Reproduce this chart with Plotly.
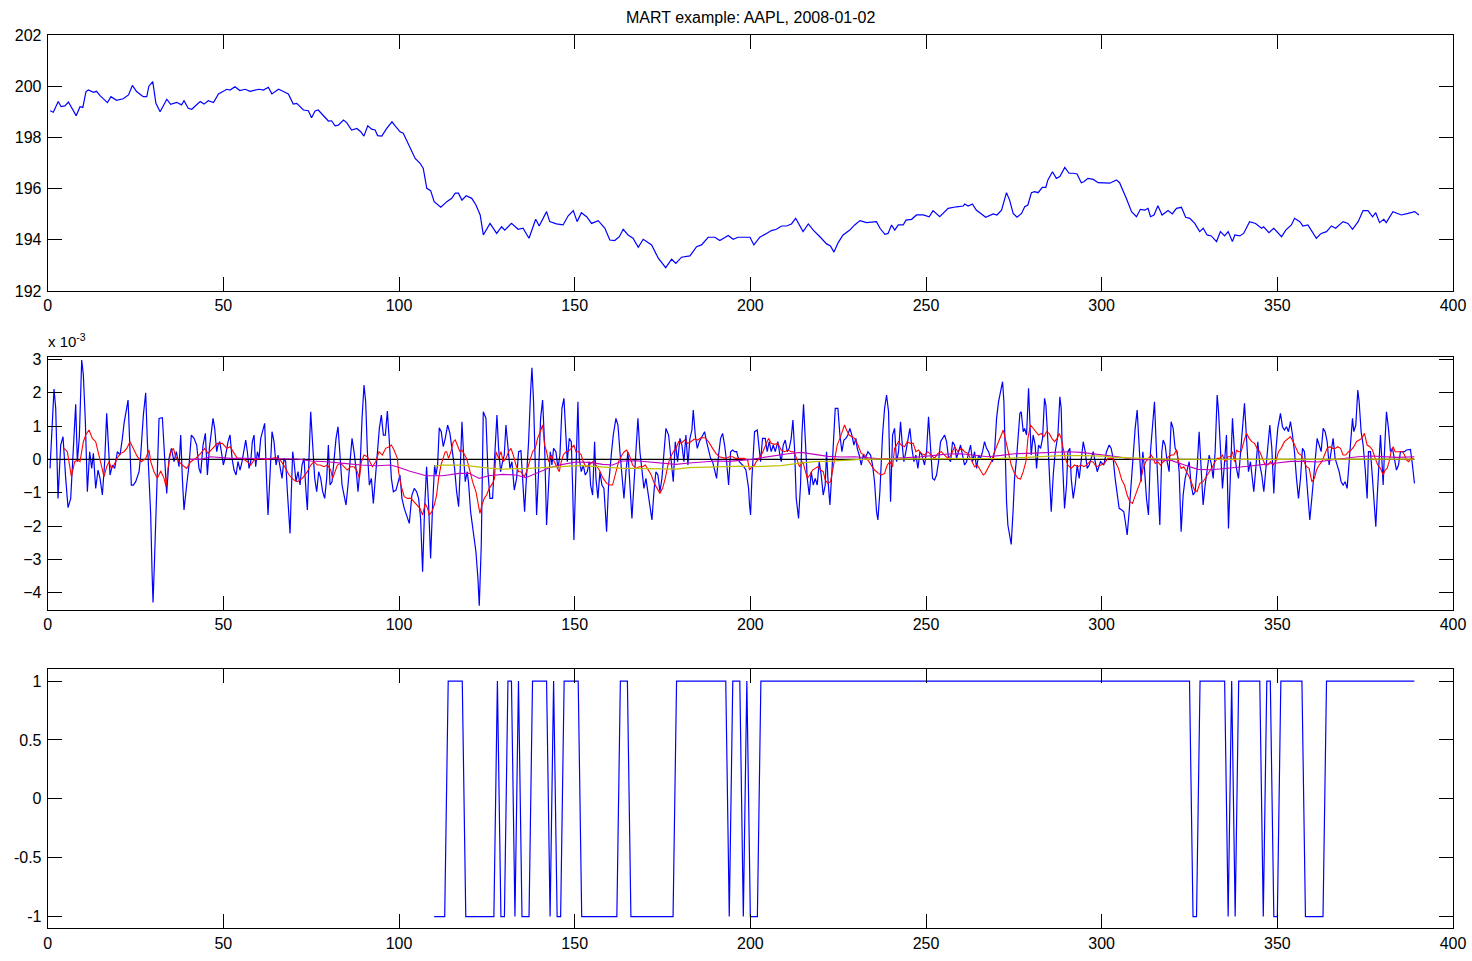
import plotly.graph_objects as go

# ---------------- data ----------------
# AAPL price by minute index (t, price)
price_pts = [
    (0.7, 199.04), (1.6, 198.98), (3.0, 199.40), (3.8, 199.20), (4.9, 199.23), (5.9, 199.38), (8.1, 198.85),
    (9.2, 199.20), (10.0, 199.17), (10.9, 199.79), (11.6, 199.85), (13.0, 199.76), (13.9, 199.80), (14.9, 199.63),
    (17.0, 199.36), (18.0, 199.59), (19.6, 199.45), (21.5, 199.51), (23.0, 199.66), (24.1, 200.03), (25.3, 199.79),
    (27.2, 199.59), (28.2, 199.59), (28.8, 200.00), (29.9, 200.18), (30.8, 199.33), (32.0, 199.00), (33.9, 199.49),
    (35.0, 199.29), (36.7, 199.37), (38.1, 199.27), (38.8, 199.43), (40.0, 199.14), (41.0, 199.10), (43.4, 199.40),
    (44.5, 199.30), (45.7, 199.43), (47.2, 199.36), (48.6, 199.70), (51.0, 199.88), (51.9, 199.85), (53.3, 199.98),
    (54.7, 199.83), (56.2, 199.88), (57.6, 199.80), (59.0, 199.85), (60.2, 199.88), (61.4, 199.85), (62.8, 199.96),
    (63.8, 199.70), (65.7, 199.88), (67.1, 199.79), (68.5, 199.70), (69.9, 199.30), (70.9, 199.33), (72.8, 199.07),
    (74.2, 199.04), (75.1, 198.77), (76.1, 199.03), (77.0, 199.07), (78.5, 198.84), (79.9, 198.64), (80.8, 198.65),
    (81.8, 198.45), (82.7, 198.48), (84.2, 198.68), (85.1, 198.58), (86.5, 198.29), (88.0, 198.35), (89.1, 198.22),
    (90.0, 198.05), (91.1, 198.45), (92.2, 198.32), (93.2, 198.29), (93.9, 198.07), (95.1, 198.05), (96.5, 198.35),
    (98.0, 198.61), (98.9, 198.45), (100.3, 198.22), (101.2, 198.16), (103.1, 197.64), (104.6, 197.18),
    (106.0, 196.99), (106.9, 196.79), (107.9, 196.01), (109.0, 195.92), (110.0, 195.49), (111.9, 195.27),
    (113.6, 195.49), (115.0, 195.62), (116.0, 195.82), (116.9, 195.82), (117.9, 195.55), (119.1, 195.72),
    (120.7, 195.62), (121.9, 195.36), (123.1, 194.97), (124.0, 194.19), (125.9, 194.64), (127.8, 194.25),
    (129.2, 194.51), (130.1, 194.38), (132.0, 194.64), (133.9, 194.41), (135.3, 194.45), (137.0, 194.06),
    (138.9, 194.80), (139.9, 194.54), (142.0, 195.10), (142.9, 194.71), (144.8, 194.62), (146.7, 194.58),
    (148.1, 194.93), (149.6, 195.14), (150.7, 194.71), (151.9, 195.06), (153.4, 194.90), (154.8, 194.64),
    (156.7, 194.75), (158.6, 194.45), (160.0, 193.99), (161.4, 193.97), (162.7, 194.12), (163.8, 194.41),
    (165.2, 194.19), (166.6, 194.06), (168.1, 193.71), (169.5, 194.02), (171.9, 193.80), (173.8, 193.28),
    (175.9, 192.91), (177.6, 193.24), (178.8, 193.08), (180.4, 193.32), (182.8, 193.37), (184.7, 193.73),
    (186.1, 193.80), (188.0, 194.10), (189.9, 194.10), (191.3, 193.97), (193.7, 194.17), (195.1, 194.02),
    (196.5, 194.10), (199.9, 194.10), (201.0, 193.80), (202.7, 194.10), (204.6, 194.25), (206.0, 194.36),
    (207.4, 194.41), (208.9, 194.54), (210.3, 194.54), (211.7, 194.62), (212.9, 194.84), (215.0, 194.32),
    (216.5, 194.62), (217.9, 194.38), (219.8, 194.12), (221.7, 193.84), (222.8, 193.76), (223.8, 193.52),
    (225.0, 193.89), (226.4, 194.19), (228.3, 194.38), (229.7, 194.58), (231.2, 194.75), (233.1, 194.67),
    (235.9, 194.71), (236.9, 194.45), (238.3, 194.21), (239.2, 194.25), (240.2, 194.58), (241.1, 194.38),
    (242.1, 194.58), (243.5, 194.58), (244.3, 194.77), (245.9, 194.80), (247.3, 194.97), (249.2, 194.97),
    (250.9, 194.90), (252.0, 195.14), (253.9, 194.90), (256.3, 195.23), (258.7, 195.29), (260.6, 195.32),
    (261.0, 195.40), (262.0, 195.32), (263.2, 195.40), (264.3, 195.16), (267.0, 194.88), (269.1, 195.01),
    (270.2, 194.97), (271.5, 195.16), (272.9, 195.84), (273.8, 195.55), (274.8, 195.03), (275.9, 194.88),
    (277.2, 195.03), (278.1, 195.29), (279.0, 195.36), (280.0, 195.84), (280.9, 195.88), (281.9, 195.84),
    (283.1, 196.05), (284.1, 196.05), (284.7, 196.34), (286.0, 196.66), (287.1, 196.40), (288.1, 196.47),
    (289.5, 196.83), (290.7, 196.60), (291.9, 196.60), (293.0, 196.57), (294.2, 196.23), (294.9, 196.27),
    (296.1, 196.40), (297.6, 196.36), (299.0, 196.23), (301.3, 196.23), (302.3, 196.21), (304.2, 196.34),
    (305.1, 196.23), (307.0, 195.62), (308.5, 195.10), (309.9, 194.90), (311.0, 195.19), (312.3, 195.16),
    (313.2, 195.23), (313.9, 194.90), (314.9, 194.97), (316.0, 195.33), (317.2, 194.97), (318.9, 195.14),
    (320.1, 195.01), (321.3, 195.23), (322.7, 195.27), (323.9, 194.88), (325.1, 194.84), (326.5, 194.64),
    (327.9, 194.32), (328.9, 194.45), (330.0, 194.19), (331.2, 194.15), (332.7, 193.93), (333.8, 194.32),
    (335.0, 194.15), (336.0, 194.32), (337.2, 193.93), (337.9, 194.19), (339.3, 194.15), (340.4, 194.25),
    (342.1, 194.71), (343.8, 194.64), (345.5, 194.45), (346.1, 194.51), (347.6, 194.28), (349.0, 194.45),
    (351.2, 194.12), (352.4, 194.38), (354.0, 194.58), (354.9, 194.84), (356.4, 194.71), (357.3, 194.54),
    (358.7, 194.58), (361.1, 194.06), (362.5, 194.25), (364.0, 194.32), (365.4, 194.54), (366.6, 194.45),
    (368.7, 194.71), (370.1, 194.64), (371.4, 194.41), (373.0, 194.71), (374.4, 195.14), (375.8, 195.14),
    (377.1, 194.90), (378.0, 195.06), (379.1, 194.67), (380.3, 194.80), (381.0, 194.67), (382.9, 195.10),
    (385.3, 194.97), (387.2, 195.03), (389.1, 195.10), (390.3, 194.97),
]

# one-minute returns, in units of 1e-3
ret_pts = [
    (0.66, -0.27), (1.80, 2.11), (2.28, 1.53), (2.94, -1.17), (3.70, 0.43), (4.36, 0.68), (5.12, -0.57),
    (5.79, -1.45), (6.55, -1.17), (7.31, 0.33), (7.97, 1.65), (8.44, -0.07), (9.01, 0.68), (9.68, 2.98),
    (10.15, 2.53), (10.72, 1.13), (11.29, -0.97), (11.95, 0.23), (12.52, -0.27), (13.00, 0.18), (13.66, -0.87),
    (14.33, -0.32), (14.90, -0.57), (15.56, -1.07), (16.22, -0.07), (16.79, 1.38), (17.27, 0.53), (17.74, -0.47),
    (18.41, -0.17), (19.07, -0.27), (19.83, 0.23), (20.59, 0.13), (21.25, 0.63), (21.73, 1.08), (22.87, 1.78),
    (23.43, 0.53), (23.81, -0.77), (24.38, -0.77), (25.05, -0.67), (26.00, -0.37), (26.47, 0.13), (27.23, 1.33),
    (27.89, 2.00), (28.37, 0.53), (28.94, -0.57), (29.32, -1.67), (29.70, -3.37), (29.98, -4.29), (30.36, -3.17),
    (30.83, -1.57), (31.21, -0.47), (31.69, 1.23), (32.64, 1.25), (33.30, 0.03), (33.87, -1.02), (34.54, 0.03),
    (35.20, 0.33), (35.96, -0.07), (36.62, 0.23), (37.38, -0.22), (37.86, 0.73), (38.33, -0.57), (38.80, -1.52),
    (39.56, -0.77), (40.23, -0.17), (40.89, 0.73), (41.65, 0.63), (42.41, 0.43), (43.07, -0.27), (43.55, -0.42),
    (44.21, 0.43), (44.88, 0.78), (45.45, -0.47), (46.02, 0.33), (46.58, 0.83), (47.06, 1.23), (47.53, 0.93),
    (48.10, 0.23), (48.48, 0.43), (48.96, 0.53), (49.43, 0.23), (50.00, -0.17), (50.66, 0.13), (51.33, 0.53),
    (51.90, 0.73), (52.47, 0.03), (53.04, -0.32), (53.61, -0.47), (54.17, -0.07), (54.74, -0.32), (55.31, -0.07),
    (55.88, 0.23), (56.36, 0.58), (56.83, 0.23), (57.31, -0.27), (57.78, -0.07), (58.25, 0.53), (58.73, 0.73),
    (59.20, -0.22), (59.68, 0.23), (60.15, 0.03), (60.63, 0.63), (61.76, 1.08), (62.24, -0.47), (62.71, -1.67),
    (63.28, -0.47), (63.85, 0.83), (64.42, 0.53), (64.99, -0.17), (65.56, 0.13), (66.13, -0.27), (66.70, -0.57),
    (67.27, 0.03), (67.74, -0.07), (68.22, -0.97), (68.69, -1.77), (68.98, -2.22), (69.35, -0.97), (69.73, 0.23),
    (70.11, -0.07), (70.68, -0.67), (71.25, -0.37), (71.82, -0.77), (72.39, -0.17), (72.96, 0.03), (73.53, -0.97),
    (73.91, -1.52), (74.38, 0.03), (74.86, 1.43), (75.43, 0.43), (76.00, -0.57), (76.57, -0.97), (77.13, -0.37),
    (77.70, -0.57), (78.27, -0.97), (78.84, -1.17), (79.41, -0.57), (79.89, 0.43), (80.36, -0.77), (80.93, -0.67),
    (81.50, 0.03), (82.07, 0.63), (82.64, 0.98), (83.21, 0.03), (83.78, -0.77), (84.35, -1.07), (84.91, -1.37),
    (85.48, -0.77), (86.05, -0.17), (86.62, 0.63), (87.19, 0.23), (87.76, -0.27), (88.33, -0.97), (88.90, -0.27),
    (89.47, 1.23), (90.04, 2.23), (90.51, 1.73), (90.99, 0.23), (91.56, -0.77), (92.13, -0.57), (92.69, -1.32),
    (93.26, -0.47), (93.83, 0.33), (94.40, 0.93), (94.97, 1.33), (95.54, 0.73), (96.11, 0.73), (96.68, 1.45),
    (97.25, 0.53), (97.82, -0.57), (98.39, -0.97), (99.15, -0.92), (100.26, -0.47), (100.83, -1.17),
    (101.49, -1.47), (102.92, -1.92), (103.67, -1.07), (104.34, -0.87), (105.00, -0.97), (105.57, -1.17),
    (106.14, -1.77), (106.71, -3.37), (107.28, -1.47), (107.85, -0.22), (108.42, -1.37), (108.99, -2.97),
    (109.56, -1.37), (110.13, -0.17), (110.51, -0.47), (110.98, -0.17), (111.45, 0.95), (112.02, 0.83),
    (112.59, 0.38), (113.16, 0.63), (113.83, 1.03), (114.49, 0.78), (115.06, 0.33), (115.82, -0.27),
    (116.39, -0.97), (116.96, -1.42), (117.43, -0.27), (117.91, 1.13), (118.48, -0.07), (118.85, -0.67),
    (119.42, -0.37), (119.80, -0.72), (120.37, -1.57), (121.13, -2.17), (121.89, -2.77), (122.46, -3.57),
    (122.84, -4.39), (123.41, -2.57), (123.98, 1.43), (124.74, 1.23), (125.31, -0.37), (125.88, -1.17),
    (126.63, -1.17), (127.20, 0.03), (127.87, 1.33), (128.34, 0.33), (128.91, -0.37), (129.48, -0.07),
    (129.96, 0.13), (130.43, 1.03), (131.00, 0.23), (131.57, -0.27), (132.14, -0.07), (132.80, -0.92),
    (133.47, -0.57), (134.04, 0.23), (134.70, 0.26), (135.17, -0.57), (135.74, -1.57), (136.31, -0.47),
    (136.88, 0.53), (137.45, 2.03), (137.83, 2.75), (138.30, 1.73), (138.78, -0.27), (139.16, -1.67),
    (139.73, -0.37), (140.30, 1.23), (140.87, 1.78), (141.44, 0.43), (142.00, -1.97), (142.57, -0.57),
    (143.05, 0.23), (143.52, -0.17), (143.99, 0.33), (144.66, 0.23), (145.23, -0.27), (145.80, 0.13),
    (146.37, 1.53), (146.94, 1.83), (147.32, 1.13), (147.89, -0.07), (148.46, 0.63), (149.03, 0.53),
    (149.40, -0.77), (149.78, -2.42), (150.16, -1.07), (150.54, 0.73), (150.92, 1.73), (151.30, 0.03),
    (151.87, -0.37), (152.44, -0.17), (153.01, -0.47), (153.58, -0.37), (154.15, -0.07), (154.53, -0.77),
    (155.10, -1.07), (155.67, 0.53), (156.05, -0.57), (156.61, -1.17), (157.18, -0.37), (157.75, -0.77),
    (158.32, -0.87), (159.08, -2.17), (159.65, -0.77), (160.41, 0.13), (160.98, 0.73), (161.74, 1.23),
    (162.31, 1.03), (162.88, 0.23), (163.45, -0.57), (164.02, -1.17), (164.59, -0.37), (165.15, 0.23),
    (165.72, -0.77), (166.29, -1.77), (166.86, -0.77), (167.43, 0.23), (168.00, 1.23), (168.57, 0.23),
    (169.14, -0.37), (169.71, -0.87), (170.28, -0.57), (170.85, -0.97), (171.42, -1.27), (171.99, -1.82),
    (172.56, -0.97), (173.12, -0.37), (173.69, -0.47), (174.26, -0.97), (174.83, -0.57), (175.40, 0.23),
    (175.97, 0.93), (176.73, 0.73), (177.49, 0.03), (178.06, -0.67), (178.63, 0.53), (179.29, -0.07),
    (179.96, 0.63), (180.52, 0.43), (181.09, -0.07), (181.66, 0.73), (182.23, -0.17), (182.80, 0.63),
    (183.37, 0.88), (183.75, 1.48), (184.32, 0.73), (184.89, 0.33), (185.46, 0.53), (186.03, 0.63),
    (186.97, 0.83), (187.54, 0.53), (188.11, 0.23), (188.68, 0.03), (189.25, -0.07), (189.82, -0.37),
    (190.39, -0.57), (190.96, 0.13), (191.53, 0.63), (192.10, 0.78), (192.67, 0.43), (193.24, -0.07),
    (193.81, -0.77), (194.38, 0.23), (194.94, 0.28), (195.51, 0.23), (196.08, 0.23), (196.84, -0.07),
    (197.79, -0.17), (198.74, -0.32), (199.50, -0.87), (199.77, -1.37), (200.06, -1.67), (200.44, -0.57),
    (200.82, 0.33), (201.20, 0.83), (201.96, 0.88), (202.53, 0.23), (202.91, -0.07), (203.47, 0.63),
    (204.23, 0.63), (204.80, 0.23), (205.37, 0.53), (205.94, 0.23), (206.51, 0.43), (207.08, 0.23),
    (207.84, 0.53), (208.41, 0.13), (208.79, -0.07), (209.36, 0.43), (209.93, 0.58), (210.50, 0.23),
    (211.06, 0.33), (211.63, 0.63), (212.11, 1.18), (212.58, 0.33), (213.06, -1.17), (213.72, -1.77),
    (214.29, -0.77), (214.67, 0.73), (215.14, 1.65), (215.62, 0.63), (216.19, -0.57), (216.76, -1.07),
    (217.33, -0.37), (217.90, -0.77), (218.47, -0.57), (219.03, -0.77), (219.60, -0.07), (220.17, -0.47),
    (220.74, -1.07), (221.31, -0.77), (221.69, 0.23), (222.07, -0.57), (222.64, -1.37), (223.21, -0.37),
    (223.78, 0.63), (224.16, 1.53), (224.92, 1.53), (225.49, 0.73), (226.06, 0.23), (226.62, 0.58),
    (227.19, 0.63), (227.76, 0.73), (228.33, 0.93), (228.90, 0.73), (229.47, 0.43), (230.04, 0.63),
    (230.42, 0.33), (230.99, 0.13), (231.56, -0.17), (232.13, 0.13), (232.70, 0.03), (233.46, 0.23),
    (234.21, 0.13), (234.78, -0.17), (235.35, -0.67), (235.92, -1.57), (236.30, -1.82), (236.87, -0.97),
    (237.63, 0.73), (238.20, 1.53), (238.77, 1.93), (239.34, 1.43), (239.91, -1.27), (240.48, 0.73),
    (241.05, 0.93), (241.61, -0.07), (242.18, 0.23), (242.75, 1.13), (243.32, 0.33), (243.70, -0.07),
    (244.27, 0.23), (244.84, 0.63), (245.41, 0.93), (245.98, 0.33), (246.55, -0.07), (247.12, 0.13),
    (247.69, -0.27), (248.26, 0.23), (248.83, 0.13), (249.58, -0.17), (250.15, 0.23), (250.72, 1.28),
    (251.29, 0.23), (251.86, -0.57), (252.43, -0.62), (253.00, -0.47), (253.57, -0.07), (254.14, 0.53),
    (254.71, 0.63), (255.28, 0.73), (255.85, 0.53), (256.42, 0.03), (256.99, -0.07), (257.55, 0.53),
    (258.12, 0.43), (258.69, 0.03), (259.26, 0.23), (259.83, 0.43), (260.40, 0.13), (260.97, -0.17),
    (261.54, -0.07), (262.11, 0.23), (262.68, 0.43), (263.25, -0.07), (263.82, 0.23), (264.39, -0.27),
    (264.96, 0.13), (265.52, 0.03), (266.09, 0.23), (266.66, 0.53), (267.23, 0.33), (267.80, 0.23),
    (268.37, 0.03), (268.94, -0.07), (269.51, 0.23), (270.08, 1.23), (270.65, 1.73), (271.22, 2.03),
    (271.79, 2.33), (272.17, 1.73), (272.55, -0.37), (272.92, -1.27), (273.30, -1.97), (273.87, -2.37),
    (274.25, -2.55), (274.82, -1.47), (275.20, -0.57), (275.77, 0.03), (276.15, 0.63), (276.72, 1.38),
    (277.10, 1.43), (277.67, 0.83), (278.05, 0.93), (278.62, 0.73), (279.19, 2.13), (279.57, 1.33),
    (279.94, 0.13), (280.51, 0.73), (281.08, 0.43), (281.46, -0.27), (282.03, 0.43), (282.60, 0.33),
    (283.17, 0.63), (283.74, 1.83), (284.12, 1.63), (284.50, 0.93), (285.07, -0.57), (285.64, -1.57),
    (286.21, -0.47), (286.78, 0.23), (287.54, 0.73), (288.10, 1.88), (288.48, 1.53), (288.86, -0.07),
    (289.43, -1.47), (290.00, -0.77), (290.38, 0.23), (290.95, 0.33), (291.33, -0.57), (291.90, -1.17),
    (292.47, -0.77), (293.04, -0.17), (293.61, -0.57), (294.18, 0.03), (294.75, 0.53), (295.31, 0.23),
    (295.88, -0.27), (296.45, -0.17), (297.02, 0.03), (297.59, 0.23), (298.16, -0.07), (298.73, -0.37),
    (299.66, -0.07), (300.61, -0.17), (301.37, 0.23), (302.13, 0.43), (302.70, 0.33), (303.26, 0.03),
    (303.83, -0.57), (304.40, -1.07), (304.97, -1.47), (305.73, -1.52), (306.30, -1.57), (306.87, -1.97),
    (307.25, -2.27), (307.82, -1.57), (308.39, -0.77), (308.96, 0.23), (309.53, 0.93), (310.10, 1.48),
    (310.66, 0.23), (311.23, -0.67), (311.71, 0.23), (312.18, -0.27), (312.75, -1.17), (313.32, -1.67),
    (313.89, 0.23), (314.46, 1.03), (315.03, 1.73), (315.60, 0.23), (316.17, -1.37), (316.55, -1.97),
    (317.12, 0.23), (317.50, 0.58), (318.07, 0.43), (318.63, -0.07), (319.20, -0.37), (319.77, 1.13),
    (320.34, 0.93), (320.91, 0.33), (321.48, 0.23), (322.05, -0.37), (322.62, -2.17), (323.19, -1.07),
    (323.76, -0.57), (324.33, -0.27), (324.90, -0.07), (325.47, -0.77), (326.03, -1.07), (326.60, -0.97),
    (327.17, -0.27), (327.74, 0.83), (328.31, -0.17), (328.88, -1.37), (329.45, -0.77), (330.02, -0.27),
    (330.59, 0.13), (331.16, -0.12), (331.73, -0.57), (332.30, 0.23), (332.87, 1.93), (333.24, 1.48),
    (333.81, 0.23), (334.38, -0.87), (334.95, -0.12), (335.52, 0.73), (336.09, -2.07), (336.66, -0.57),
    (337.23, 1.23), (337.80, 0.23), (338.37, -0.27), (338.94, -0.57), (339.51, 0.33), (340.08, 0.93),
    (340.65, 1.68), (341.21, 0.63), (341.78, -0.37), (342.35, -0.07), (342.73, -0.37), (343.30, -0.97),
    (343.87, -0.27), (344.44, 0.53), (345.01, -0.17), (345.58, -0.47), (346.15, -0.97), (346.72, -0.27),
    (347.29, 0.53), (347.86, 1.03), (348.43, 0.33), (349.00, -1.02), (349.56, 0.23), (350.13, 0.93),
    (350.89, 1.38), (351.46, 0.98), (352.03, 0.88), (352.60, 0.98), (353.17, 0.83), (353.74, 1.13),
    (354.31, 0.73), (354.88, 0.23), (355.45, -0.57), (356.02, -1.17), (356.59, -0.57), (357.15, 0.33),
    (357.72, 0.23), (358.29, -0.57), (358.86, -1.57), (359.24, -1.82), (359.81, -1.17), (360.38, -0.57),
    (360.95, 0.23), (361.33, 0.63), (361.90, 0.43), (362.47, 0.23), (363.04, 0.93), (363.61, 0.83),
    (364.18, 0.53), (364.74, -0.17), (365.31, 0.23), (365.88, 0.63), (366.45, 0.03), (367.02, -0.17),
    (367.59, -0.37), (368.16, -0.67), (368.73, -0.77), (369.30, -0.67), (369.87, -0.87), (370.44, -0.07),
    (371.01, 0.73), (371.39, 1.23), (371.77, 0.83), (372.34, 1.03), (372.90, 2.08), (373.28, 1.73),
    (373.85, 0.83), (374.42, 0.43), (374.99, -0.27), (375.56, -1.17), (375.94, 0.23), (376.51, 0.23),
    (377.08, -0.57), (377.65, -1.57), (378.03, -2.02), (378.41, -1.17), (378.98, 0.23), (379.35, 0.73),
    (379.73, 0.03), (380.12, -0.77), (380.50, 0.23), (381.06, 1.43), (381.63, 0.93), (382.20, 0.23),
    (382.77, 0.33), (383.34, -0.07), (383.91, -0.32), (384.48, -0.17), (385.05, 0.23), (385.62, 0.23),
    (386.19, 0.23), (386.76, 0.28), (387.33, 0.30), (387.89, 0.30), (388.46, -0.17), (389.03, -0.72),
]

# fast smoothed return (red), units of 1e-3
fast_pts = [
    (4.65, 0.33), (5.60, 0.23), (6.74, -0.52), (7.69, -0.07), (8.44, -0.02), (9.20, -0.07), (10.15, 0.53),
    (10.82, 0.73), (11.76, 0.88), (12.71, 0.63), (13.66, 0.53), (14.61, 0.13), (15.28, -0.22), (16.03, -0.52),
    (16.79, -0.22), (17.46, -0.07), (18.12, -0.27), (18.88, -0.17), (19.83, 0.05), (20.78, 0.18), (21.73, 0.23),
    (22.49, 0.33), (23.43, 0.53), (24.38, 0.33), (25.52, 0.08), (26.66, -0.07), (27.89, 0.03), (28.84, 0.28),
    (29.32, -0.07), (30.27, -0.37), (31.21, -0.57), (32.16, -0.35), (33.11, -0.57), (33.68, -0.82),
    (34.25, -0.27), (35.01, 0.23), (35.77, 0.33), (36.43, 0.08), (37.38, -0.07), (38.33, -0.17), (39.56, -0.27),
    (40.70, -0.07), (42.13, 0.03), (43.55, 0.18), (44.69, 0.33), (45.64, 0.18), (46.87, 0.33), (48.29, 0.48),
    (49.72, 0.48), (50.95, 0.33), (51.90, 0.38), (52.85, 0.23), (53.98, 0.03), (55.41, 0.03), (56.83, -0.07),
    (57.78, -0.17), (58.73, -0.02), (60.15, 0.03), (61.57, 0.01), (62.71, 0.00), (64.42, 0.05), (65.37, 0.05),
    (66.51, -0.07), (67.46, -0.22), (68.69, -0.47), (70.11, -0.62), (71.06, -0.67), (72.49, -0.57),
    (73.91, -0.37), (74.86, -0.17), (75.81, -0.07), (76.76, -0.17), (77.51, -0.17), (78.65, -0.22),
    (79.60, -0.17), (80.55, -0.32), (81.12, -0.57), (81.69, -0.37), (82.45, -0.17), (83.40, -0.12),
    (84.35, -0.22), (85.29, -0.32), (86.24, -0.22), (87.19, -0.22), (88.14, -0.37), (88.71, -0.57),
    (89.28, -0.07), (90.04, 0.13), (90.99, 0.08), (91.75, -0.07), (92.41, -0.22), (93.36, -0.07), (94.31, 0.23),
    (95.26, 0.13), (96.20, 0.33), (97.15, 0.38), (97.82, 0.43), (98.58, 0.28), (99.53, 0.03), (99.88, -0.37),
    (100.54, -0.77), (101.49, -1.12), (102.44, -1.17), (103.39, -1.17), (104.34, -1.27), (105.29, -1.37),
    (105.95, -1.47), (106.71, -1.67), (107.47, -1.32), (108.13, -1.47), (108.61, -1.67), (109.37, -1.57),
    (110.03, -1.37), (110.70, -1.07), (111.26, -0.57), (111.93, -0.17), (112.59, 0.03), (113.16, 0.23),
    (113.54, 0.23), (114.11, 0.03), (114.77, 0.23), (115.44, 0.53), (116.01, 0.58), (116.58, 0.43),
    (117.34, 0.23), (117.91, 0.28), (118.57, 0.13), (119.23, 0.03), (119.99, -0.27), (120.94, -0.67),
    (121.89, -0.97), (122.65, -1.37), (123.03, -1.62), (123.60, -1.37), (124.26, -1.17), (124.93, -1.07),
    (125.68, -0.87), (126.63, -0.72), (127.20, -0.57), (127.58, 0.23), (128.34, 0.03), (129.01, 0.23),
    (129.67, -0.07), (130.43, 0.03), (131.19, 0.23), (131.85, 0.33), (132.52, 0.13), (133.28, -0.17),
    (134.04, -0.37), (134.70, -0.37), (135.65, -0.52), (136.31, -0.37), (137.07, -0.07), (138.02, 0.23),
    (138.78, 0.33), (139.44, 0.63), (140.20, 0.83), (140.87, 1.03), (141.44, 0.43), (142.00, 0.23),
    (142.57, -0.07), (143.33, 0.13), (144.19, -0.07), (144.85, -0.22), (145.61, -0.37), (146.18, -0.07),
    (146.75, 0.13), (147.51, 0.23), (148.27, 0.25), (149.03, 0.33), (149.78, 0.43), (150.35, 0.23),
    (151.11, 0.23), (151.87, 0.13), (152.44, -0.07), (153.20, -0.22), (154.15, -0.17), (155.10, -0.07),
    (156.05, -0.17), (157.00, -0.32), (158.13, -0.57), (159.08, -0.72), (160.03, -0.77), (160.79, -0.77),
    (161.74, -0.37), (162.50, -0.07), (163.45, 0.13), (164.11, 0.23), (164.78, 0.28), (165.53, 0.13),
    (166.48, -0.17), (167.43, -0.27), (168.38, -0.22), (169.33, -0.22), (170.09, -0.17), (170.85, -0.32),
    (171.80, -0.47), (172.65, -0.72), (173.50, -0.87), (174.26, -1.02), (175.02, -0.87), (175.78, -0.57),
    (176.54, -0.17), (177.11, 0.03), (178.06, 0.23), (178.82, 0.33), (179.57, 0.53), (180.33, 0.48),
    (181.28, 0.58), (182.14, 0.48), (183.08, 0.53), (184.03, 0.61), (184.99, 0.58), (185.93, 0.65),
    (187.16, 0.65), (188.11, 0.53), (189.25, 0.33), (190.20, 0.18), (191.15, 0.08), (192.10, 0.05),
    (193.05, 0.03), (194.00, 0.08), (194.94, 0.08), (195.90, 0.03), (196.84, 0.03), (198.27, 0.03),
    (199.22, -0.02), (199.77, -0.32), (200.44, -0.22), (201.20, -0.17), (201.67, -0.07), (202.62, 0.03),
    (203.57, 0.23), (204.52, 0.48), (205.18, 0.63), (205.94, 0.48), (206.89, 0.45), (207.84, 0.48),
    (208.79, 0.28), (209.74, 0.23), (210.69, 0.28), (211.63, 0.23), (212.39, 0.23), (213.15, 0.03),
    (214.01, -0.22), (214.95, -0.07), (216.19, -0.57), (216.95, -0.47), (217.71, -0.32), (218.47, -0.27),
    (219.22, -0.22), (219.98, -0.32), (220.74, -0.37), (221.31, -0.62), (222.07, -0.72), (222.83, -0.67),
    (223.40, -0.37), (223.97, 0.03), (224.73, 0.43), (225.49, 0.63), (226.24, 0.83), (226.81, 1.03),
    (227.38, 0.88), (228.14, 0.73), (228.90, 0.68), (229.66, 0.63), (230.61, 0.43), (231.56, 0.18),
    (232.51, 0.13), (233.46, -0.02), (234.40, -0.17), (235.35, -0.32), (236.49, -0.42), (237.25, -0.47),
    (238.20, -0.42), (238.96, -0.17), (239.72, -0.07), (240.48, -0.22), (241.05, 0.33), (242.18, 0.53),
    (242.94, 0.43), (243.89, 0.38), (244.65, 0.53), (245.60, 0.48), (246.36, 0.48), (247.12, 0.23),
    (247.88, 0.28), (248.63, 0.18), (249.58, 0.13), (250.53, 0.23), (251.48, 0.13), (252.43, 0.03),
    (253.38, 0.18), (254.33, 0.23), (255.28, 0.13), (256.23, 0.03), (257.17, 0.13), (258.12, 0.38),
    (259.07, 0.23), (260.02, 0.33), (260.97, 0.23), (261.92, 0.18), (262.87, -0.02), (263.82, -0.22),
    (264.58, -0.17), (265.33, -0.32), (266.28, -0.47), (266.85, -0.42), (267.61, -0.27), (268.56, -0.07),
    (269.51, 0.23), (270.46, 0.48), (271.41, 0.73), (271.98, 0.88), (272.55, 0.63), (273.30, 0.23),
    (274.25, -0.17), (275.20, -0.42), (276.15, -0.57), (276.91, -0.59), (277.67, -0.37), (278.43, -0.07),
    (279.00, 0.63), (279.75, 1.03), (280.51, 0.93), (281.27, 0.83), (282.03, 0.73), (282.79, 0.78),
    (283.55, 0.68), (284.31, 0.83), (285.07, 0.78), (285.83, 0.63), (286.59, 0.53), (287.35, 0.63),
    (287.92, 0.78), (288.48, 0.63), (289.05, 0.33), (289.62, 0.03), (290.38, -0.17), (291.33, -0.27),
    (292.28, -0.17), (293.23, -0.22), (294.18, -0.17), (294.94, -0.22), (295.69, -0.17), (296.55, -0.07),
    (297.50, -0.07), (298.45, -0.22), (299.85, -0.17), (300.80, -0.12), (301.75, 0.03), (302.88, 0.03),
    (303.83, -0.07), (304.78, -0.27), (305.73, -0.62), (306.49, -0.77), (307.25, -1.07), (308.01, -1.27),
    (308.77, -1.32), (309.53, -1.07), (310.29, -0.87), (311.04, -0.67), (311.80, -0.27), (312.56, -0.07),
    (313.32, 0.03), (314.08, 0.13), (314.65, 0.03), (315.22, -0.12), (315.98, -0.07), (316.74, -0.17),
    (317.50, -0.07), (318.25, -0.02), (319.01, 0.08), (319.77, 0.13), (320.53, 0.13), (321.29, 0.28),
    (321.86, -0.07), (322.62, -0.27), (323.38, -0.22), (324.14, -0.37), (324.90, -0.52), (325.65, -0.72),
    (326.41, -0.92), (327.17, -0.97), (327.93, -0.72), (328.88, -0.67), (329.83, -0.52), (330.78, -0.37),
    (331.54, -0.22), (332.30, -0.07), (332.87, 0.03), (333.62, 0.03), (334.38, 0.13), (335.14, -0.07),
    (335.90, 0.08), (336.66, 0.08), (337.23, 0.23), (337.80, -0.07), (338.37, 0.28), (338.94, 0.23),
    (339.70, 0.23), (340.46, 0.53), (341.22, 0.78), (341.97, 0.63), (342.73, 0.53), (343.49, 0.48),
    (344.25, 0.33), (345.01, 0.23), (345.77, 0.03), (346.53, -0.17), (347.29, -0.17), (348.05, -0.07),
    (348.81, -0.17), (349.56, -0.07), (350.32, 0.23), (351.08, 0.33), (352.03, 0.53), (352.98, 0.61),
    (353.74, 0.68), (354.50, 0.53), (355.26, 0.33), (356.02, 0.18), (356.78, 0.13), (357.53, -0.07),
    (358.29, -0.22), (359.05, -0.27), (359.81, -0.67), (360.57, -0.57), (361.14, -0.32), (361.90, -0.17),
    (362.66, -0.07), (363.42, 0.13), (364.18, 0.33), (364.93, 0.38), (365.69, 0.33), (366.45, 0.33),
    (367.21, 0.38), (367.97, 0.33), (368.73, 0.13), (369.49, 0.13), (370.25, 0.23), (371.01, 0.28),
    (371.77, 0.38), (372.52, 0.53), (373.28, 0.58), (374.04, 0.63), (374.80, 0.78), (375.56, 0.43),
    (376.32, 0.38), (377.08, 0.28), (377.84, 0.03), (378.60, -0.17), (379.35, -0.27), (380.12, -0.47),
    (380.68, -0.32), (381.25, -0.27), (381.82, -0.07), (382.39, 0.23), (382.96, 0.38), (383.53, 0.23),
    (384.10, 0.23), (384.86, 0.23), (385.62, 0.23), (386.19, 0.13), (386.76, -0.02), (387.33, -0.07),
    (388.08, 0.03), (388.84, 0.03),
]

# slow smoothed return (magenta), units of 1e-3
slow_pts = [
    (40.2, 0.00), (43.5, 0.00), (46.4, 0.08), (49.2, 0.05), (52.1, 0.03), (55.9, 0.03), (59.7, 0.03),
    (63.5, 0.01), (67.3, 0.01), (71.1, 0.01), (74.9, -0.05), (79.6, -0.07), (84.3, -0.12), (89.1, -0.17),
    (93.8, -0.19), (97.6, -0.17), (100.3, -0.25), (102.9, -0.35), (107.7, -0.49), (112.4, -0.49),
    (117.1, -0.42), (120.0, -0.42), (122.8, -0.57), (125.5, -0.49), (129.5, -0.45), (133.3, -0.47),
    (136.1, -0.55), (139.0, -0.42), (142.8, -0.25), (146.6, -0.15), (150.4, -0.08), (154.2, -0.09),
    (158.0, -0.15), (160.8, -0.17), (163.6, -0.05), (167.4, -0.04), (171.2, -0.07), (175.0, -0.12),
    (178.8, -0.15), (182.6, -0.11), (186.4, -0.07), (190.2, -0.05), (194.0, -0.06), (197.8, -0.03),
    (200.4, 0.00), (203.1, 0.05), (206.9, 0.12), (210.7, 0.17), (214.5, 0.21), (218.3, 0.15), (222.1, 0.09),
    (225.9, 0.07), (229.7, 0.08), (233.5, 0.05), (237.2, 0.02), (241.0, 0.03), (244.8, 0.05), (248.6, 0.08),
    (252.4, 0.12), (256.2, 0.16), (260.0, 0.17), (263.8, 0.13), (267.6, 0.08), (271.4, 0.12), (275.2, 0.17),
    (279.0, 0.18), (282.8, 0.20), (286.6, 0.22), (290.4, 0.23), (294.2, 0.21), (298.0, 0.17), (301.7, 0.13),
    (304.6, 0.08), (308.4, 0.01), (312.2, 0.00), (316.0, -0.01), (319.8, -0.03), (323.6, -0.17),
    (327.4, -0.30), (331.2, -0.31), (335.0, -0.28), (338.7, -0.25), (342.5, -0.20), (346.3, -0.15),
    (350.1, -0.10), (353.9, -0.06), (357.7, -0.06), (361.5, -0.08), (365.3, -0.02), (369.1, 0.04),
    (372.9, 0.08), (376.7, 0.10), (380.5, 0.08), (384.3, 0.06), (389.0, 0.08),
]

# long-window smoothed return (yellow), units of 1e-3
long_pts = [
    (110.0, -0.20), (112.4, -0.17), (118.1, -0.17), (121.9, -0.22), (125.7, -0.26), (129.5, -0.29),
    (133.3, -0.29), (137.1, -0.27), (140.9, -0.25), (144.7, -0.22), (148.5, -0.20), (152.3, -0.19),
    (156.0, -0.22), (159.8, -0.25), (163.6, -0.27), (167.4, -0.27), (171.2, -0.27), (175.0, -0.29),
    (178.8, -0.29), (182.6, -0.25), (186.4, -0.24), (190.2, -0.22), (194.0, -0.22), (197.8, -0.20),
    (200.5, -0.22), (203.6, -0.21), (208.8, -0.19), (213.5, -0.12), (218.3, -0.07), (223.0, -0.05),
    (227.8, -0.02), (231.6, 0.00), (237.2, 0.01), (246.7, 0.01), (256.2, 0.01), (265.7, 0.01), (271.4, 0.03),
    (277.1, 0.05), (282.8, 0.08), (288.5, 0.11), (294.2, 0.11), (300.6, 0.10), (302.7, 0.07), (306.5, 0.05),
    (310.3, 0.03), (317.9, 0.01), (336.9, 0.00), (355.9, 0.00), (374.8, 0.00), (389.0, 0.01),
]

# zero reference
zero_t = [0, 389]
zero_v = [0, 0]

# trading signal: minute index at each run boundary and its value
sig_t = [110, 113, 114, 118, 119, 127, 128, 129, 130, 131, 132, 133, 134, 135, 137, 138, 142, 143, 144, 145,
         146, 147, 151, 152, 162, 163, 165, 166, 178, 179, 193, 194, 195, 197, 198, 199, 200, 202, 203, 325,
         326, 327, 328, 335, 336, 337, 338, 339, 345, 346, 347, 348, 349, 350, 351, 357, 358, 363, 364, 389]
sig_v = [-1, -1, 1, 1, -1, -1, 1, -1, -1, 1, 1, -1, 1, -1, -1, 1, 1, -1, 1, -1,
         -1, 1, 1, -1, -1, 1, 1, -1, -1, 1, 1, -1, 1, 1, -1, 1, -1, -1, 1, 1,
         -1, -1, 1, 1, -1, 1, -1, 1, 1, -1, 1, 1, -1, -1, 1, 1, -1, -1, 1, 1]

x_ticks = [0, 50, 100, 150, 200, 250, 300, 350, 400]
price_ticks = [192, 194, 196, 198, 200, 202]
ret_ticks = [-4, -3, -2, -1, 0, 1, 2, 3]
sig_ticks = [-1, -0.5, 0, 0.5, 1]
sig_tick_text = ["-1", "-0.5", "0", "0.5", "1"]

TITLE = "MART example: AAPL, 2008-01-02"


def unzip(pts):
    return [p[0] for p in pts], [p[1] for p in pts]


# ---------------- figure ----------------
W, H = 1472, 961
FONT = "Liberation Sans, Arial, Helvetica, sans-serif"
BLUE = "#0000ff"

fig = go.Figure()

px_, pv_ = unzip(price_pts)
fig.add_trace(go.Scatter(x=px_, y=pv_, mode="lines", line=dict(color=BLUE, width=1.2),
                         xaxis="x", yaxis="y", hoverinfo="skip"))

rx, rv = unzip(ret_pts)
fig.add_trace(go.Scatter(x=rx, y=rv, mode="lines", line=dict(color=BLUE, width=1.2),
                         xaxis="x2", yaxis="y2", hoverinfo="skip"))
fig.add_trace(go.Scatter(x=zero_t, y=zero_v, mode="lines", line=dict(color="#000000", width=1.2),
                         xaxis="x2", yaxis="y2", hoverinfo="skip"))
fx, fv = unzip(fast_pts)
fig.add_trace(go.Scatter(x=fx, y=fv, mode="lines", line=dict(color="#ff0000", width=1.1),
                         xaxis="x2", yaxis="y2", hoverinfo="skip"))
sx, sv = unzip(slow_pts)
fig.add_trace(go.Scatter(x=sx, y=sv, mode="lines", line=dict(color="#c000c0", width=1.1),
                         xaxis="x2", yaxis="y2", hoverinfo="skip"))
lx, lv = unzip(long_pts)
fig.add_trace(go.Scatter(x=lx, y=lv, mode="lines", line=dict(color="#c0c000", width=1.3),
                         xaxis="x2", yaxis="y2", hoverinfo="skip"))

fig.add_trace(go.Scatter(x=sig_t, y=sig_v, mode="lines", line=dict(color=BLUE, width=1.2),
                         xaxis="x3", yaxis="y3", hoverinfo="skip"))


def px_to_dom_x(a, b):
    return [a / W, b / W]


def px_to_dom_y(top, bottom):
    return [1 - bottom / H, 1 - top / H]


tickfont = dict(family=FONT, size=16, color="#000000")
common = dict(ticks="inside", ticklen=14, tickwidth=1, tickcolor="#000000",
              showline=True, linecolor="#000000", linewidth=1, mirror="ticks",
              showgrid=False, zeroline=False, tickfont=tickfont, fixedrange=True,
              automargin=False)
ycommon = dict(common, ticklabelstandoff=2)

xdom = px_to_dom_x(47.7, 1453)

fig.update_layout(
    width=W, height=H,
    margin=dict(l=0, r=0, t=0, b=0, autoexpand=False),
    paper_bgcolor="#ffffff", plot_bgcolor="#ffffff",
    showlegend=False,
    xaxis=dict(domain=xdom, range=[0, 400], tickvals=x_ticks, anchor="y", **common),
    yaxis=dict(domain=px_to_dom_y(35, 291), range=[192, 202], tickvals=price_ticks, anchor="x", **ycommon),
    xaxis2=dict(domain=xdom, range=[0, 400], tickvals=x_ticks, anchor="y2", **common),
    yaxis2=dict(domain=px_to_dom_y(356.7, 609.7), range=[-4.51, 3.08], tickvals=ret_ticks, anchor="x2",
                **ycommon),
    xaxis3=dict(domain=xdom, range=[0, 400], tickvals=x_ticks, anchor="y3", **common),
    yaxis3=dict(domain=px_to_dom_y(669.3, 928.3), range=[-1.1, 1.1], tickvals=sig_ticks,
                ticktext=sig_tick_text, anchor="x3", **ycommon),
    annotations=[
        dict(text=TITLE, x=(47.7 + 1453) / 2 / W, y=1 - 17 / H, xref="paper", yref="paper",
             xanchor="center", yanchor="middle", showarrow=False,
             font=dict(family=FONT, size=16, color="#000000")),
        dict(text="x 10<sup>-3</sup>", x=46 / W, y=1 - 352 / H, xref="paper", yref="paper",
             xanchor="left", yanchor="bottom", showarrow=False,
             font=dict(family=FONT, size=15, color="#000000")),
    ],
)

fig.write_html("out.html")
